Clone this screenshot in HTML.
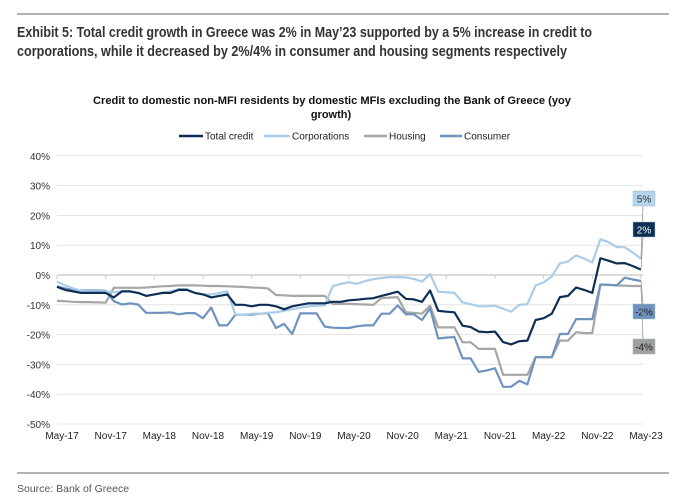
<!DOCTYPE html>
<html><head><meta charset="utf-8"><style>
html,body{margin:0;padding:0;background:#fff;}
svg{display:block;font-family:"Liberation Sans",Arial,sans-serif;}
</style></head><body>
<svg id="chart" width="682" height="502" viewBox="0 0 682 502">
<line x1="17" y1="14" x2="669" y2="14" stroke="#666" stroke-width="1"/>
<text x="17" y="37" font-size="15" font-weight="bold" fill="#333" textLength="575" lengthAdjust="spacingAndGlyphs">Exhibit 5: Total credit growth in Greece was 2% in May’23 supported by a 5% increase in credit to</text>
<text x="17" y="56" font-size="15" font-weight="bold" fill="#333" textLength="550" lengthAdjust="spacingAndGlyphs">corporations, while it decreased by 2%/4% in consumer and housing segments respectively</text>
<text x="93" y="104" font-size="11" font-weight="bold" fill="#111" textLength="478" lengthAdjust="spacingAndGlyphs">Credit to domestic non-MFI residents by domestic MFIs excluding the Bank of Greece (yoy</text>
<text x="331" y="118" font-size="11" font-weight="bold" fill="#111" text-anchor="middle">growth)</text>
<g id="legend"></g>
<g id="grid"></g>
<g id="yaxis"></g>
<g id="xaxis"></g>
<g id="series"></g>
<g id="endlabels"></g>
<line x1="17" y1="473" x2="669" y2="473" stroke="#666" stroke-width="1"/>
<text x="17" y="492" font-size="10.5" fill="#555">Source: Bank of Greece</text>
</svg>
<script>
const months = ["May-17","Nov-17","May-18","Nov-18","May-19","Nov-19","May-20","Nov-20","May-21","Nov-21","May-22","Nov-22","May-23"];
const yTicks = [40,30,20,10,0,-10,-20,-30,-40,-50];
const seriesNames = ["Total credit","Corporations","Housing","Consumer"];
const totalCredit = [-4,-5,-5.5,-6,-6,-6,-6,-7.5,-5.5,-5.5,-6,-7,-6.5,-6,-6,-5,-5,-6,-6.5,-7.5,-7,-6.5,-10,-10,-10.5,-10,-10,-10.5,-11.5,-10.5,-10,-9.5,-9.5,-9.5,-9,-9,-8.5,-8.3,-8,-7.8,-7,-6.3,-5.6,-8,-8.2,-9,-5.2,-12,-12.3,-12.5,-17,-17.5,-19,-19.2,-19,-22.5,-23.3,-22.2,-22,-15.1,-14.5,-13,-7.4,-7,-4.2,-5,-6,5.6,4.8,3.9,4,3,1.8];
const corporations = [-2.2,-3.5,-4.5,-5.3,-5.5,-5.5,-5.5,-5.8,-5.5,-5.5,-6,-7,-6.5,-6,-5.5,-4.7,-4.8,-6,-6.5,-6.5,-6,-5.5,-13.3,-13.3,-13,-13,-12.7,-12.5,-12,-11.5,-11,-10.5,-10.3,-10.2,-3.7,-3,-2.4,-3,-2,-1.4,-1,-0.7,-0.7,-0.8,-1.3,-2.2,0.3,-5.6,-5.8,-6,-9.2,-9.8,-10.5,-10.5,-10.3,-11.3,-12.3,-10,-9.8,-3.5,-2.5,-0.5,3.9,4.5,6.6,5.5,4.2,12,11,9.4,9.3,7.5,5.5];
const housing = [-8.7,-8.8,-9,-9.1,-9.1,-9.2,-9.3,-4.3,-4.3,-4.3,-4.3,-4.2,-4,-3.8,-3.7,-3.5,-3.5,-3.5,-3.6,-3.7,-3.7,-3.8,-3.9,-4,-4.2,-4.3,-4.5,-6.7,-6.8,-7,-7,-7,-7,-7,-9.7,-9.7,-9.7,-9.8,-9.9,-10,-7.8,-7.6,-7.4,-12.5,-12.7,-13,-10.3,-17.6,-17.6,-17.6,-22.6,-22.6,-24.8,-24.8,-24.8,-33.5,-33.5,-33.5,-33.5,-27.6,-27.6,-27.6,-22,-22,-19.2,-19.5,-19.5,-3.2,-3.3,-3.5,-3.6,-3.7,-3.7];
const consumer = [-3.8,-4.5,-5,-5.2,-5.2,-5.2,-5.3,-8.8,-9.9,-9.5,-9.9,-12.7,-12.7,-12.7,-12.5,-13.2,-12.8,-12.8,-14.5,-10.9,-16.9,-16.9,-13.3,-13.3,-13.3,-13,-12.8,-17.8,-16.4,-19.8,-12.9,-12.9,-12.9,-17.3,-17.7,-17.8,-17.8,-17.2,-16.9,-16.9,-13,-13,-10.2,-13.2,-13.2,-15.1,-11.2,-21.3,-21,-20.8,-28,-28,-32.5,-32,-31.3,-37.5,-37.5,-35.5,-36.7,-27.6,-27.6,-27.6,-19.8,-19.8,-14.8,-14.8,-14.8,-3.2,-3.3,-3.5,-0.9,-1.5,-2];
const endLabels = ["5%","2%","-2%","-4%"];

const NS="http://www.w3.org/2000/svg";
const X0=57,X1=641,Y0=275,PER10=29.8;
const N=totalCredit.length;
function xS(i){return X0+(X1-X0)*i/(N-1);}
function yS(v){return Y0-v*PER10/10;}
function mk(tag,attrs,parent){const e=document.createElementNS(NS,tag);for(const k in attrs)e.setAttribute(k,attrs[k]);parent.appendChild(e);return e;}

const grid=document.getElementById('grid'),yaxis=document.getElementById('yaxis'),xaxis=document.getElementById('xaxis');
yTicks.forEach(t=>{
  const l=mk('line',{x1:X0,x2:X1+2,y1:yS(t),y2:yS(t),stroke:t===0?'#cfcfcf':'#e3e3e3','stroke-width':t===0?1.5:1},grid);
  
  
  const tx=mk('text',{x:50,y:yS(t)+4,'font-size':10,fill:'#333','text-anchor':'end'},yaxis);
  tx.textContent=t+'%';
  
  
});
months.forEach((m,k)=>{
  const i=k*6;
  const tk=mk('line',{x1:xS(i),x2:xS(i),y1:Y0,y2:Y0+4,stroke:'#cfcfcf'},grid);
  
  
  const tx=mk('text',{x:xS(i)+5,y:439,'font-size':10,fill:'#222','text-anchor':'middle'},xaxis);
  tx.textContent=m;
  
  
});

const colors=['#0d2f55','#a9cde9','#a6a6a6','#6f93bf'];
const data=[totalCredit,corporations,housing,consumer];
const order=[2,3,1,0];
const sg=document.getElementById('series');
order.forEach(s=>{
  const d=data[s].map((v,i)=>(i?'L':'M')+xS(i).toFixed(1)+','+yS(v).toFixed(1)).join(' ');
  const p=mk('path',{d:d,fill:'none',stroke:colors[s],'stroke-width':2.2,'stroke-linejoin':'round'},sg);
  
  
});

// end labels
const eg=document.getElementById('endlabels');
const boxY=[191,222,304,339];
const boxFill=['#b4d3ec','#0d2f55','#6f93bf','#a0a0a0'];
const boxText=['#333','#fff','#222','#222'];
[1,0,3,2].forEach((s,k)=>{
  const ey=yS(data[s][N-1]);
  const by=boxY[k];
  const ly=by+15<ey?by+15:by;
  const ll=mk('line',{x1:643,y1:ly,x2:X1,y2:ey,stroke:'#999','stroke-width':0.8},eg);
  
  
  const r=mk('rect',{x:633,y:by,width:22,height:15,fill:boxFill[k],stroke:'#9bb',"stroke-width":0.5},eg);
  
  
  const t=mk('text',{x:644,y:by+11.5,'font-size':10,fill:boxText[k],'text-anchor':'middle'},eg);
  t.textContent=endLabels[k];
  
  
});

// legend
const lg=document.getElementById('legend');
const legX=[[179,203,205],[264,290,292],[364,387,389],[440,462,464]];
seriesNames.forEach((n,s)=>{
  const l=mk('line',{x1:legX[s][0],x2:legX[s][1],y1:136,y2:136,stroke:colors[s],'stroke-width':2.5},lg);
  
  
  const t=mk('text',{x:legX[s][2],y:139.5,'font-size':10,fill:'#222'},lg);
  t.textContent=n;
  
  
});
</script>
</body></html>
